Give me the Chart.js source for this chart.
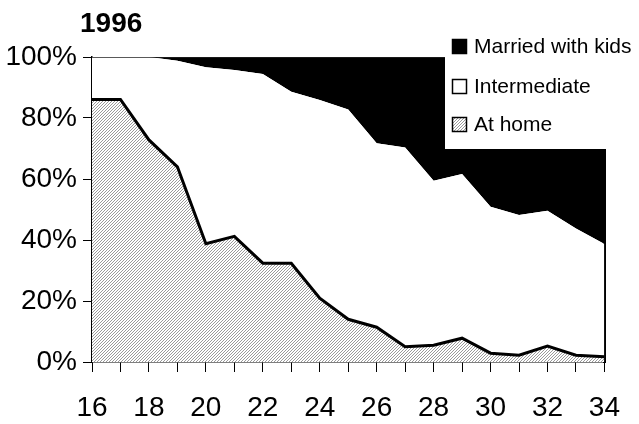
<!DOCTYPE html>
<html>
<head>
<meta charset="utf-8">
<title>1996</title>
<script src="https://cdn.jsdelivr.net/npm/chart.js@4/dist/chart.umd.min.js"></script>
<style>
  html, body { margin: 0; padding: 0; background: #fff; }
  #chartUsia { display: block; }
</style>
</head>
<body>
<canvas id="chartUsia" width="639" height="424"></canvas>
<script>
// Data (persen per umur)
const umur = ["16", "17", "18", "19", "20", "21", "22", "23", "24", "25", "26", "27", "28", "29", "30", "31", "32", "33", "34"];
const atHome = [86.1, 86.1, 72.8, 64, 38.8, 41.2, 32.4, 32.4, 20.9, 14, 11.4, 5, 5.5, 7.8, 2.9, 2.2, 5.2, 2.2, 1.7];
const intermediate = [13.9, 13.9, 27.2, 34.8, 57.8, 54.5, 62, 56.2, 65, 68.8, 60.3, 65.3, 53.9, 53.8, 48, 46, 44.4, 41.6, 37];
const marriedKids = [0, 0, 0, 1.2, 3.4, 4.3, 5.6, 11.4, 14.1, 17.2, 28.3, 29.7, 40.6, 38.4, 49.1, 51.8, 50.4, 56.2, 61.3];
const yTicks = [0, 20, 40, 60, 80, 100];

const FONT = "'Liberation Sans', Arial, sans-serif";

// Pola arsiran abu-abu untuk "At home"
function makeHatch() {
  const c = document.createElement("canvas");
  c.width = 3;
  c.height = 3;
  const g = c.getContext("2d");
  g.fillStyle = "#ffffff";
  g.fillRect(0, 0, 3, 3);
  g.fillStyle = "#9a9a9a";
  g.fillRect(2, 0, 1, 1);
  g.fillRect(1, 1, 1, 1);
  g.fillRect(0, 2, 1, 1);
  return g.createPattern(c, "repeat");
}

// Judul dan legenda digambar sendiri (legenda menimpa area plot)
const judulLegenda = {
  id: "judulLegenda",
  afterDraw(chart) {
    const ctx = chart.ctx;
    ctx.save();
    ctx.fillStyle = "#000";
    ctx.font = "bold 28px " + FONT;
    ctx.textBaseline = "middle";
    ctx.textAlign = "left";
    ctx.fillText("1996", 80, 24);

    ctx.fillStyle = "#fff";
    ctx.fillRect(445, 20, 194, 129);

    const items = chart.data.datasets.slice().reverse();
    const rowsY = [46, 86, 124];
    ctx.font = "21px " + FONT;
    items.forEach((ds, i) => {
      const y = rowsY[i];
      ctx.fillStyle = ds.backgroundColor;
      ctx.fillRect(452, y - 7, 15, 15);
      ctx.strokeStyle = "#000";
      ctx.lineWidth = 1.5;
      ctx.strokeRect(452.5, y - 6.5, 14, 14);
      ctx.fillStyle = "#000";
      ctx.fillText(ds.label, 474, y + 1);
    });
    ctx.restore();
  }
};

document.addEventListener("DOMContentLoaded", function () {
  const canvas = document.getElementById("chartUsia");
  const hatch = makeHatch();

  new Chart(canvas, {
    type: "line",
    data: {
      labels: umur,
      datasets: [
        {
          label: "At home",
          data: atHome,
          backgroundColor: hatch,
          borderColor: "#000",
          borderWidth: 3,
          fill: "origin",
        },
        {
          label: "Intermediate",
          data: intermediate,
          backgroundColor: "#ffffff",
          borderColor: "#000",
          borderWidth: 0,
          fill: "-1",
        },
        {
          label: "Married with kids",
          data: marriedKids,
          backgroundColor: "#000000",
          borderColor: "#222",
          borderWidth: 1.5,
          fill: "-1",
        },
      ],
    },
    options: {
      responsive: false,
      animation: false,
      devicePixelRatio: 1,
      elements: {
        point: { radius: 0 },
        line: { tension: 0, borderJoinStyle: "miter" },
      },
      layout: {
        padding: { top: 57, right: 29, left: 0, bottom: 0 },
      },
      plugins: {
        legend: { display: false },
        title: { display: false },
        tooltip: { enabled: false },
        filler: { drawTime: "beforeDatasetsDraw" },
      },
      scales: {
        x: {
          z: 1,
          offset: false,
          grid: {
            drawOnChartArea: false,
            drawTicks: true,
            tickLength: 10,
            tickColor: "#000",
          },
          border: { display: true, color: "#000", width: 1.5 },
          ticks: {
            autoSkip: false,
            maxRotation: 0,
            color: "#000",
            padding: 19,
            font: { family: FONT, size: 28 },
            callback: function (val, idx) {
              return idx % 2 === 0 ? umur[idx] : "";
            },
          },
          afterFit: function (scale) {
            scale.height = 62;
          },
        },
        y: {
          z: 1,
          stacked: true,
          min: 0,
          max: 100,
          grid: {
            drawOnChartArea: false,
            drawTicks: true,
            tickLength: 9,
            tickColor: "#000",
          },
          border: { display: true, color: "#000", width: 1.5 },
          afterBuildTicks: function (scale) {
            scale.ticks = yTicks.map((v) => ({ value: v }));
          },
          ticks: {
            color: "#000",
            padding: 6,
            font: { family: FONT, size: 28 },
            callback: function (val) {
              return val + "%";
            },
          },
          afterFit: function (scale) {
            scale.width = 92;
          },
        },
        kanan: {
          position: "right",
          z: 1,
          min: 0,
          max: 100,
          grid: { drawOnChartArea: false, drawTicks: false },
          border: { display: true, color: "#000", width: 3 },
          ticks: { display: false },
          afterFit: function (scale) {
            scale.width = 0;
          },
        },
      },
    },
    plugins: [judulLegenda],
  });
});
</script>
</body>
</html>
